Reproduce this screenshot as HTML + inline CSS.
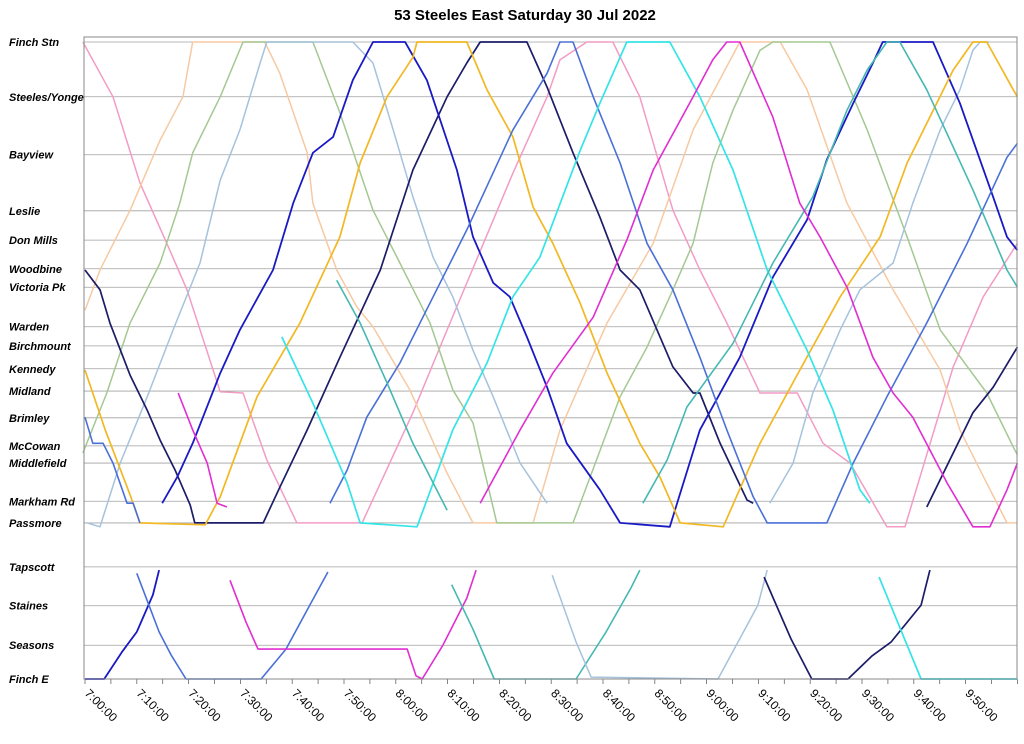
<!DOCTYPE html>
<html><head><meta charset="utf-8"><style>
html,body{margin:0;padding:0;background:#fff;}
svg{display:block;font-family:"Liberation Sans",sans-serif;}
</style></head><body>
<svg id="chart" width="1024" height="744" viewBox="0 0 1024 744" xmlns="http://www.w3.org/2000/svg">
<text x="525" y="20" text-anchor="middle" font-size="15" font-weight="bold">53 Steeles East Saturday 30 Jul 2022</text>
<g id="grid"></g>
<g id="labels"></g>
<g id="xaxis"></g>
<g id="series"></g>
<rect x="84" y="37" width="933" height="642" fill="none" stroke="#888" stroke-width="1"/>
</svg>
<script>
// Stops (name, distance along route 0..100)
const stopNames = ["Finch Stn","Steeles/Yonge","Bayview","Leslie","Don Mills","Woodbine","Victoria Pk","Warden","Birchmount","Kennedy","Midland","Brimley","McCowan","Middlefield","Markham Rd","Passmore","Tapscott","Staines","Seasons","Finch E"];
const stopDist = [0,8.6,17.7,26.5,31.1,35.6,38.5,44.7,47.7,51.3,54.8,59,63.4,66.1,72.1,75.5,82.4,88.5,94.7,100];
// time ticks: minutes after 7:00
const tickMinutes = [0,10,20,30,40,50,60,70,80,90,100,110,120,130,140,150,160,170];
const tickLabels = ["7:00:00","7:10:00","7:20:00","7:30:00","7:40:00","7:50:00","8:00:00","8:10:00","8:20:00","8:30:00","8:40:00","8:50:00","9:00:00","9:10:00","9:20:00","9:30:00","9:40:00","9:50:00"];
// Trips: [minute, distance]
const tripPink = [[-0.4,0],[5.4,8.6],[10.6,22.1],[15.8,31.6],[19.7,38.9],[26.1,54.9],[30.5,55.1],[35.1,65.6],[40.9,75.5],[53.5,75.5],[63.3,58.2],[69.9,45.2],[82.6,20.6],[89.2,8.6],[91.7,2.8],[96.9,0],[101.9,0],[107.1,8.6],[113.5,26.4],[118.7,35.8],[123.9,44.1],[130.3,55.1],[137.5,55.1],[142.5,63],[147.7,66.1],[154.8,76.1],[158.3,76.1],[167.6,51],[173.4,40],[180,31.6]];
const tripPeach = [[0,42.1],[2.9,35.8],[8.7,26.4],[14.5,15.4],[18.9,8.6],[20.8,0],[34.7,0],[37.6,4.9],[42.9,17.4],[44,25.3],[48.6,35.8],[52.5,41.6],[55.6,44.7],[62.7,54.6],[69.9,67.7],[74.9,75.5],[86.5,75.5],[91.7,60.9],[100.8,44.1],[109.7,31.6],[117.4,13.8],[126.4,0],[134.2,0],[139.4,7.5],[147.1,25.3],[156,38.9],[165.1,51.5],[168.9,60.9],[172.8,67.2],[178,75.5],[180,75.5]];
const tripGreen = [[-0.4,64.5],[4.2,55.1],[8.7,44.1],[14.5,34.7],[18.3,25.3],[20.8,17.4],[26.1,8.6],[30.5,0],[44,0],[49.2,11.1],[55.6,26.4],[60.8,34.7],[66.6,44.1],[71,54.6],[74.9,59.8],[79.5,75.5],[94.2,75.5],[103.3,55.7],[108.5,47.9],[113.5,38.9],[117.4,31.6],[121.2,19],[125.1,10.7],[130.3,1.3],[132.8,0],[143.8,0],[151,13.8],[158.7,30.6],[165.1,45.2],[174.1,55.1],[179.2,63.6],[180,64.8]];
const tripSteel1 = [[0.4,75.5],[2.9,76.1],[6.8,66.1],[12,55.7],[17,45.2],[22.2,34.7],[26.1,21.7],[29.9,13.8],[33.8,3.3],[35.1,0],[51.7,0],[55.6,3.3],[59.5,13.8],[63.3,24.3],[67.2,33.8],[71,40],[74.9,48.4],[78.8,55.7],[84,66.1],[89.2,72.4]];
const tripSteel2 = [[132.2,72.4],[136.7,66.1],[140.5,55.1],[145.8,45.2],[149.6,38.9],[156,34.7],[159.8,25.3],[165.1,13.8],[168.9,7.5],[171.4,1.3],[172.8,0],[174.5,0]];
const tripNavy1 = [[0,35.8],[2.9,38.9],[4.8,44.1],[8.7,52.3],[12,57.8],[14.5,62.5],[17.4,67.2],[20.3,72.7],[21.2,75.5],[34.4,75.5],[37.6,69.9],[42.9,60.9],[49.2,49.5],[57,35.8],[63.3,20.1],[69.9,8.6],[73.7,3.3],[76.3,0],[85.3,0],[89.2,7.1],[94.2,17.4],[99.4,27.5],[103.3,35.8],[107.1,38.9],[113.5,51],[117.4,55.1],[118.7,55.1],[122.6,63],[127.8,71.9],[129,72.4]];
const tripNavy2 = [[162.5,73],[171.4,58.2],[175.3,54.2],[180,47.9]];
const tripRoyal = [[14.9,72.4],[17.8,68.3],[20.8,63],[26.1,52],[29.9,45.2],[36.3,35.8],[40.2,25.3],[44,17.4],[47.9,14.9],[51.7,6],[55.6,0],[61.8,0],[66,6],[71.8,20.1],[74.9,30.6],[78.8,37.8],[82,40],[85.3,46.3],[89.2,54.2],[93,63],[99.4,70.3],[103.3,75.5],[112.9,76.1],[118.7,60.9],[126.4,49.5],[132.8,36.9],[139.4,27.9],[143.2,18.5],[148.3,9.6],[152.1,3.3],[154,0],[163.7,0],[168.9,9.6],[175.3,24.3],[178,30.6],[180,32.7]];
const tripGold = [[0,51.5],[3.9,60.9],[8.7,71.1],[10.6,75.5],[23.2,75.8],[26.1,71.4],[33.2,55.7],[41.5,44.1],[49.2,30.6],[53.1,19],[58.3,8.6],[63.3,2.4],[64.1,0],[73.7,0],[77.6,7.5],[82.6,14.9],[86.5,25.9],[90.3,31.6],[95.6,41],[100.8,52],[107.1,63],[111,68.3],[114.9,75.5],[123.2,76.1],[130.3,63],[138,51.5],[145.8,40],[153.5,30.6],[158.7,19],[167.6,4.4],[171.4,0],[174.1,0],[179.2,7.5],[180,8.6]];
const tripBlue1 = [[0,58.9],[1.5,63],[3.5,63],[5.4,66.1],[8.1,72.4],[9.3,72.4],[10.6,75.5]];
const tripBlue2 = [[47.3,72.4],[50.6,67.2],[54.4,58.9],[60.8,50.4],[67.2,40],[73.7,29.5],[82.6,13.8],[89.2,4.9],[91.7,0],[94.2,0],[98.1,8.6],[103.3,19],[108.5,31.6],[113.5,38.9],[118.7,49.5],[123.9,60.9],[129,71.4],[131.7,75.5],[143.2,75.5],[148.3,66.1],[154.8,55.7],[162.5,44.1],[170.3,31.6],[178,18.1],[180,15.9]];
const tripCyan = [[38,46.3],[44,56.7],[50.6,69.2],[53.1,75.5],[64.1,76.1],[71,60.9],[77.6,50.4],[82.6,40],[87.8,33.8],[95.6,17],[99.4,9.6],[104.6,0],[112.9,0],[118.7,8.6],[125.1,20.1],[131.7,35.8],[139.4,48.4],[144.4,57.8],[149.6,70.3],[151.5,72.4]];
const tripTeal1 = [[48.6,37.4],[53.1,44.1],[58.3,53.5],[63.3,63],[69.9,73.5]];
const tripTeal2 = [[107.7,72.4],[112.4,65.6],[116.2,57.3],[125.1,47.3],[132.8,34.7],[140.5,24.3],[147.1,10.7],[151,4.4],[154.8,0],[157.3,0],[162.5,7.5],[171.4,23.2],[178,35.8],[180,38.5]];
const tripMagenta1 = [[18,55.1],[20.8,60.9],[23.6,66.1],[25.5,72.4],[27.4,73]];
const tripMagenta2 = [[76.3,72.4],[84,60.9],[90.3,52],[98.1,43.2],[104.6,31.1],[109.7,20.1],[117.4,8.6],[121.2,2.8],[123.9,0],[126.4,0],[132.8,11.8],[138,25.3],[141.9,30.6],[147.1,38.5],[152.1,49.5],[156,55.1],[159.8,58.9],[166.4,69.2],[171.4,76.1],[174.7,76.1],[178,70.3],[180,66.1]];
// Branch (Tapscott - Finch E)
const branchRoyal = [[0,100],[3.7,100],[7.1,95.8],[10,92.6],[13.1,86.8],[14.3,82.9]];
const branchBlue = [[10,83.4],[14.3,92.6],[16.6,96.2],[19.5,100],[34,100],[38.8,95.3],[43.4,88.4],[46.9,83.2]];
const branchMagenta = [[28,84.5],[31.1,91.1],[33.4,95.3],[62.2,95.3],[63.9,99.5],[65.1,100],[69.1,94.7],[73.7,87.3],[75.5,82.9]];
const branchTeal = [[70.8,85.2],[74.9,92.2],[79,100],[94.8,100],[100.6,92.6],[105.4,85.7],[107.1,82.9]];
const branchSteel1 = [[90.2,83.7],[94.8,94.2],[97.7,99.7],[122.2,100]];
const branchSteel2 = [[122.2,100],[126.8,93.1],[129.9,88.4],[131.7,82.9]];
const branchNavy = [[131.1,84],[136.3,93.7],[140.3,100],[147.3,100],[151.9,96.4],[155.6,94.2],[161.4,88.4],[163.1,82.9]];
const branchCyan = [[153.3,84],[157.9,93.1],[161.4,100],[180,100]];

const trips = [
 ["trip-pink",tripPink,"#f29cc4",1.5],["trip-peach",tripPeach,"#f7c9a2",1.5],["trip-green",tripGreen,"#a4c892",1.5],
 ["trip-steelblue-1",tripSteel1,"#a6c2dc",1.5],["trip-steelblue-2",tripSteel2,"#a6c2dc",1.5],
 ["trip-navy-1",tripNavy1,"#1c1c68",1.7],["trip-navy-2",tripNavy2,"#1c1c68",1.7],
 ["trip-royal",tripRoyal,"#1a1ac4",1.8],["trip-gold",tripGold,"#f2b824",1.7],
 ["trip-blue-1",tripBlue1,"#4a70d8",1.6],["trip-blue-2",tripBlue2,"#4a70d8",1.6],
 ["trip-cyan",tripCyan,"#34e4e6",1.7],["trip-teal-1",tripTeal1,"#46b8b2",1.6],["trip-teal-2",tripTeal2,"#46b8b2",1.6],
 ["trip-magenta-1",tripMagenta1,"#e02ed2",1.6],["trip-magenta-2",tripMagenta2,"#e02ed2",1.6],
 ["branch-royal",branchRoyal,"#1a1ac4",1.8],["branch-blue",branchBlue,"#4a70d8",1.6],["branch-magenta",branchMagenta,"#e02ed2",1.6],
 ["branch-teal",branchTeal,"#46b8b2",1.6],["branch-steelblue-1",branchSteel1,"#a6c2dc",1.5],["branch-steelblue-2",branchSteel2,"#a6c2dc",1.5],
 ["branch-navy",branchNavy,"#1c1c68",1.7],["branch-cyan",branchCyan,"#34e4e6",1.7]
];

const NS="http://www.w3.org/2000/svg";
const X0=85, PXMIN=5.18, Y0=42, PXD=6.37;
function xScale(m){return X0+m*PXMIN;}
function yScale(d){return Y0+d*PXD;}
function mk(tag,parent){const e=document.createElementNS(NS,tag);parent.appendChild(e);return e;}

const grid=document.getElementById('grid'), labels=document.getElementById('labels');
stopNames.forEach((n,i)=>{
  const y=yScale(stopDist[i]);
  const l=mk('line',grid);
  
  
  l.setAttribute('x1',84);l.setAttribute('x2',1017);l.setAttribute('y1',y);l.setAttribute('y2',y);
  l.setAttribute('stroke','#a0a0a0');l.setAttribute('stroke-width','0.8');
  const t=mk('text',labels);
  
  
  t.setAttribute('x',9);t.setAttribute('y',y+4);
  t.setAttribute('font-size','11');t.setAttribute('font-weight','bold');t.setAttribute('font-style','italic');
  t.textContent=n;
});

const xa=document.getElementById('xaxis');
for(let m=0;m<=180;m+=5){
  const tk=mk('line',xa);
  
  
  tk.setAttribute('x1',xScale(m));tk.setAttribute('x2',xScale(m));tk.setAttribute('y1',679);tk.setAttribute('y2',684);
  tk.setAttribute('stroke','#666');tk.setAttribute('stroke-width','0.8');
}
tickMinutes.forEach((m,i)=>{
  const t=mk('text',xa);
  
  
  const x=xScale(m)-1, y=694;
  t.setAttribute('x',x);t.setAttribute('y',y);
  t.setAttribute('font-size','12');
  t.setAttribute('transform','rotate(45 '+x+' '+y+')');
  t.textContent=tickLabels[i];
});

const ser=document.getElementById('series');
trips.forEach(tr=>{
  const p=mk('polyline',ser);
  
  
  p.setAttribute('points',tr[1].map(v=>xScale(v[0]).toFixed(1)+','+yScale(v[1]).toFixed(1)).join(' '));
  p.setAttribute('fill','none');p.setAttribute('stroke',tr[2]);p.setAttribute('stroke-width',tr[3]);
  p.setAttribute('stroke-linejoin','round');
});
</script>
</body></html>
